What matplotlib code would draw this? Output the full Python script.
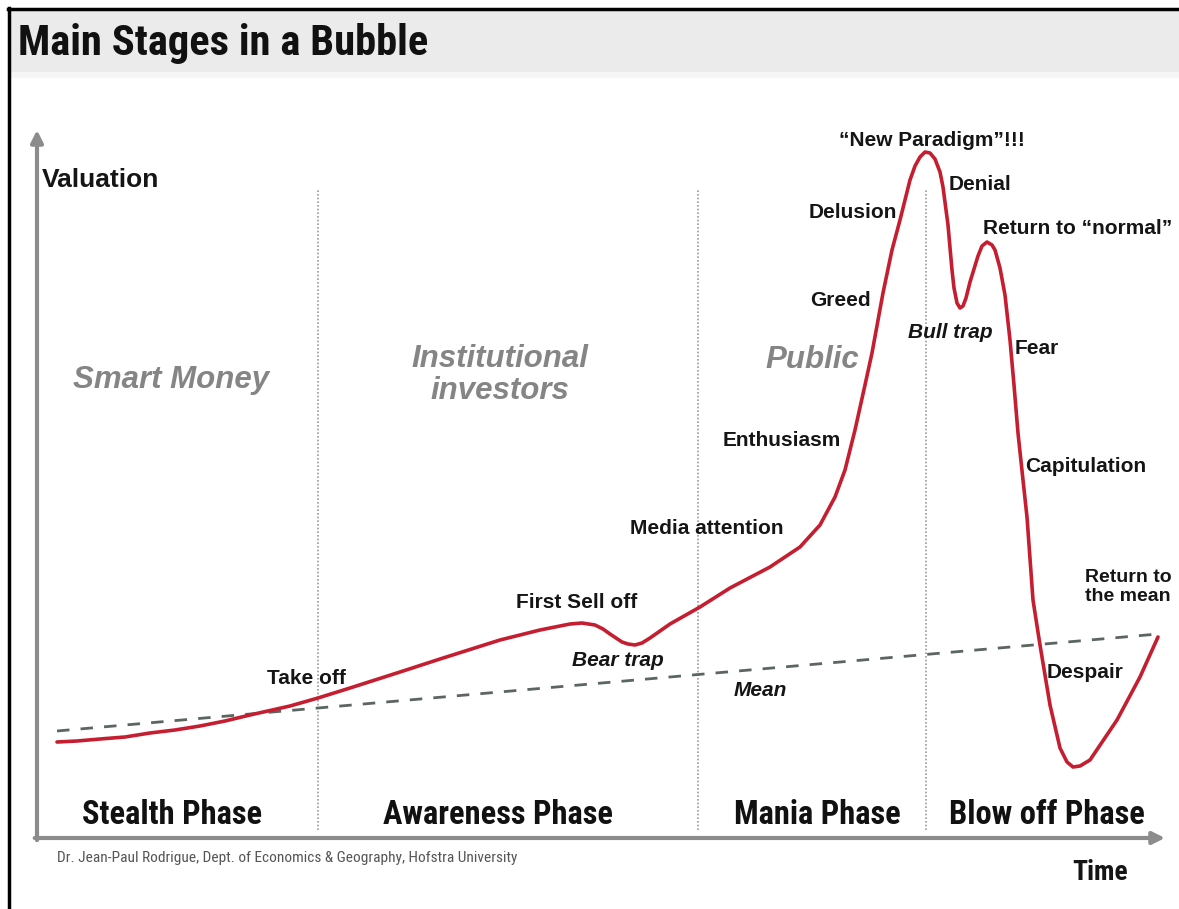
import os
import matplotlib
matplotlib.use('Agg')
import matplotlib.pyplot as plt
from matplotlib import font_manager
from matplotlib.font_manager import FontProperties
from matplotlib.patches import Rectangle
from matplotlib.lines import Line2D

# pick fonts that exist in the sandbox
names = set(f.name for f in font_manager.fontManager.ttflist)
SANS = 'Liberation Sans' if 'Liberation Sans' in names else 'DejaVu Sans'


def find_font(prefs, fallback):
    files = [f.fname for f in font_manager.fontManager.ttflist]
    for p in prefs:
        for fn in files:
            if os.path.basename(fn).lower().startswith(p):
                return FontProperties(fname=fn)
    return fallback


COND_B = find_font(['liberationsansnarrow-bold.', 'robotocondensed-bold.',
                    'dejavusanscondensed-bold.', 'opensans-condbold.'],
                   FontProperties(family=SANS, weight='bold'))
COND_R = find_font(['liberationsansnarrow-regular.', 'robotocondensed-regular.',
                    'dejavusanscondensed.'],
                   FontProperties(family=SANS))

# bubble curve: time vs valuation (arbitrary units)
time = [20, 40, 63, 88, 113, 138, 163, 188, 213, 253, 281, 313, 363, 403, 463,
        503, 533, 545, 558, 566, 573, 579, 585, 591, 598, 605, 613, 623, 633,
        663, 693, 733, 763, 783, 798, 808, 818, 828,
        835, 846, 855, 863, 873, 878, 883, 888, 893, 898, 903, 906, 911, 915,
        917, 920, 923, 926, 929, 933, 941, 945, 950, 955, 958, 963, 968, 973,
        977, 981, 986, 990, 996, 1003, 1013, 1023, 1030, 1036, 1043, 1053,
        1080, 1103, 1121]
valuation = [96, 97, 99, 101, 105, 108, 112, 117, 123, 132, 140, 150, 166, 179, 198,
             208, 214, 215, 213, 209, 204, 200, 196, 194, 193, 195, 200, 207, 214,
             231, 250, 271, 291, 313, 341, 368, 408, 453,
             485, 545, 588, 618, 658, 672, 681, 686, 685, 679, 666, 651, 613, 568,
             550, 535, 530, 532, 540, 556, 582, 592, 596, 593, 588, 570, 543, 498,
             453, 405, 358, 321, 238, 193, 133, 90, 76, 71, 72, 78,
             118, 161, 201]

mean_time = [20, 1121]
mean_val = [107, 204]

phase_edges = [281, 661, 889]
phases = ['Stealth Phase', 'Awareness Phase', 'Mania Phase', 'Blow off Phase']
phase_centers = [135, 461, 780, 1010]

groups = ['Smart Money', 'Institutional\ninvestors', 'Public']
group_pos = [(134, 458), (463, 463), (775, 478)]

# label, time, valuation, align, italic
labels = [
    ('Take off', 269, 160, 'center', False),
    ('First Sell off', 540, 235, 'center', False),
    ('Bear trap', 581, 178, 'center', True),
    ('Mean', 723, 148, 'center', True),
    ('Media attention', 670, 310, 'center', False),
    ('Enthusiasm', 745, 398, 'center', False),
    ('Greed', 803, 538, 'center', False),
    ('Delusion', 816, 625, 'center', False),
    ('\u201cNew Paradigm\u201d!!!', 895, 698, 'center', False),
    ('Denial', 943, 653, 'center', False),
    ('Return to \u201cnormal\u201d', 1041, 610, 'center', False),
    ('Bull trap', 913, 505, 'center', True),
    ('Fear', 978, 490, 'left', False),
    ('Capitulation', 988, 371, 'left', False),
    ('Despair', 1010, 165, 'left', False),
]
edge_label = ('Return to\nthe mean', 1048, 251)

W, H = 1179, 909
fig = plt.figure(figsize=(W / 100, H / 100), dpi=100)
fig.patch.set_facecolor('white')
renderer = fig.canvas.get_renderer()


def fit_width(txt, target):
    w = txt.get_window_extent(renderer).width
    txt.set_fontsize(txt.get_fontsize() * target / w)


# header band + frame
fig.patches.append(Rectangle((10 / W, 1 - 72 / H), 1, 62 / H, transform=fig.transFigure,
                             facecolor='#ebebeb', edgecolor='none', zorder=0))
fig.patches.append(Rectangle((10 / W, 1 - 78 / H), 1, 6 / H, transform=fig.transFigure,
                             facecolor='#f6f6f6', edgecolor='none', zorder=0))
fig.lines.append(Line2D([8 / W, 1], [1 - 8.5 / H, 1 - 8.5 / H], transform=fig.transFigure,
                        color='black', lw=2.5))
fig.lines.append(Line2D([8.5 / W, 8.5 / W], [0, 1 - 8 / H], transform=fig.transFigure,
                        color='black', lw=2.5))
title = fig.text(18 / W, 1 - 43 / H, 'Main Stages in a Bubble', fontproperties=COND_B,
                 fontsize=29, va='center', ha='left', color='#111111')
fit_width(title, 410)

ax = fig.add_axes([37 / W, (H - 838) / H, (1165 - 37) / W, (838 - 130) / H])
ax.set_xlim(0, 1128)
ax.set_ylim(0, 708)
ax.axis('off')

# axes arrows
axis_col = '#8c8c8c'
ax.annotate('', xy=(0, 1.0), xytext=(0, -0.003), xycoords='axes fraction',
            arrowprops=dict(arrowstyle='-|>', color=axis_col, lw=3, mutation_scale=18,
                            shrinkA=0, shrinkB=0))
ax.annotate('', xy=(1.0, 0), xytext=(-0.002, 0), xycoords='axes fraction',
            arrowprops=dict(arrowstyle='-|>', color=axis_col, lw=3, mutation_scale=18,
                            shrinkA=0, shrinkB=0))

for e in phase_edges:
    ax.plot([e, e], [8, 648], color='#9a9a9a', lw=1.2, ls=(0, (1, 1.2)))

ax.plot(mean_time, mean_val, color='#5c6660', lw=2, ls=(0, (4.5, 4)))
ax.plot(time, valuation, color='#c41e30', lw=2.6, solid_joinstyle='round',
        solid_capstyle='round')

phase_widths = [185, 233, 167, 191]
ptxt = []
for name, c in zip(phases, phase_centers):
    ptxt.append(ax.text(c, 23, name, fontproperties=COND_B, fontsize=25,
                        ha='center', va='center', color='#111111'))
scales = [w / t.get_window_extent(renderer).width for t, w in zip(ptxt, phase_widths)]
fs = 25 * sum(scales) / len(scales)
for t in ptxt:
    t.set_fontsize(fs)

for name, (t, v) in zip(groups, group_pos):
    ax.text(t, v, name, family=SANS, weight='bold', style='italic', fontsize=22.5,
            ha='center', va='center', color='#858585', linespacing=1.1)

for text, t, v, ha, it in labels:
    ax.text(t, v, text, family=SANS, weight='bold', style='italic' if it else 'normal',
            fontsize=15, ha=ha, va='center', color='#151515', linespacing=1.15)
ax.text(edge_label[1], edge_label[2], edge_label[0], family=SANS, weight='bold',
        fontsize=14, ha='left', va='center', color='#151515', linespacing=1.15)

fig.text(42 / W, 1 - 180 / H, 'Valuation', family=SANS, weight='bold', fontsize=19,
         ha='left', va='center', color='#151515')
tt = fig.text(1100 / W, 1 - 873 / H, 'Time', fontproperties=COND_B, fontsize=19,
              ha='center', va='center', color='#151515')
fit_width(tt, 56)
src = fig.text(57 / W, 1 - 858 / H,
               'Dr. Jean-Paul Rodrigue, Dept. of Economics & Geography, Hofstra University',
               fontproperties=COND_R, fontsize=9, ha='left', va='center', color='#555555')
fit_width(src, 461)

fig.savefig('out.png', dpi=100)
